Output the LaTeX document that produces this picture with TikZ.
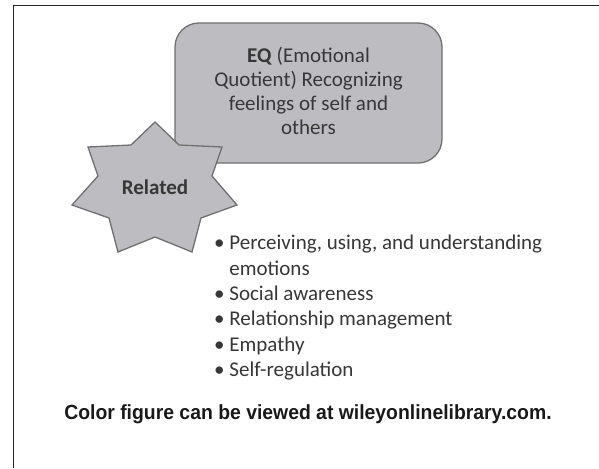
\documentclass[tikz,border=0pt]{standalone}
\usepackage{fontspec}
\setmainfont{Carlito}
\newfontfamily\capfont[FakeStretch=0.945]{Liberation Sans}
\usetikzlibrary{positioning}
\definecolor{boxgray}{RGB}{189,189,193}
\definecolor{edgegray}{RGB}{112,112,112}
\definecolor{inkgray}{RGB}{55,55,55}

\begin{document}
\begin{tikzpicture}[x=1pt,y=-1pt,
	shapefill/.style={fill=boxgray,draw=edgegray,line width=1.3pt,line join=miter},
	eqbox/.style={shapefill,rounded corners=24pt,minimum width=267pt,minimum height=140pt},
	eqtext/.style={align=center,text=inkgray,font=\fontsize{21}{24}\selectfont},
	bullets/.style={align=left,text=inkgray,inner sep=0pt,font=\fontsize{21}{25.4}\selectfont}]
\useasboundingbox (0,0) rectangle (599,468);
% frame
\draw [line width=1.2pt,black!85] (13.5,468) -- (13.5,5.5) -- (599,5.5);
% EQ box
\node [eqbox] (eq) at (308.5,93) {};
\node [eqtext] (eqtxt) at (308.5,91) {\textbf{EQ} (Emotional\\ Quotient) Recognizing\\ feelings of self and\\ others};
% star
\draw [shapefill] (155,122) -- (179,145) -- (222,147) -- (212,176) -- (237,205) -- (201,218)
	-- (192,252) -- (155,237) -- (118,252) -- (109,218) -- (72,205) -- (98,176)
	-- (88,147) -- (131,145) -- cycle;
\node [text=inkgray,font=\fontsize{21}{24}\selectfont\bfseries] (rel) at (155,187) {Related};
% list
\node [bullets,anchor=north west] (list) at (214,235) {%
	\textbullet\ Perceiving, using, and understanding\\
	\hphantom{\textbullet\ }emotions\\
	\textbullet\ Social awareness\\
	\textbullet\ Relationship management\\
	\textbullet\ Empathy\\
	\textbullet\ Self-regulation};
\node [font=\capfont\fontsize{20.5}{24}\selectfont\bfseries,text=black!90] (cap) at (308,414)
	{Color figure can be viewed at wileyonlinelibrary.com.};
\end{tikzpicture}
\end{document}
